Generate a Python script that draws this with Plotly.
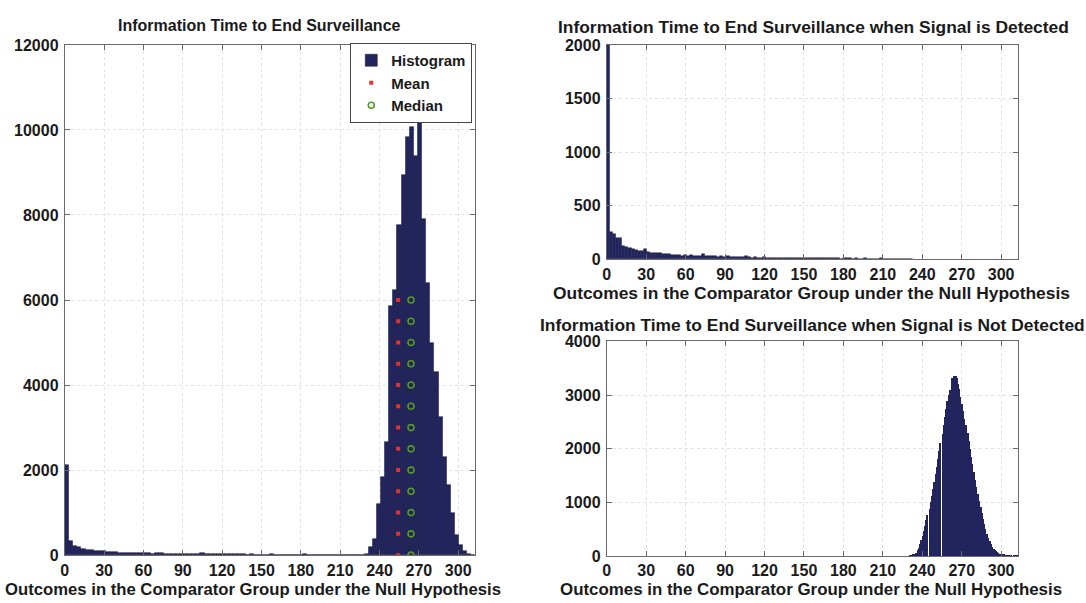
import numpy as np
import plotly.graph_objects as go

# ---------------- data ----------------
all_range = (0, 313)          # overall histogram, 100 bins
all_counts = [
    2130, 335, 225, 185, 135, 130, 115, 95, 100, 110,
    75, 70, 65, 60, 55, 58, 50, 48, 45, 50,
    42, 40, 45, 55, 38, 36, 38, 32, 30, 35,
    33, 28, 30, 45, 28, 24, 22, 20, 22, 20,
    18, 19, 17, 18, 15, 17, 14, 16, 14, 15,
    22, 14, 12, 13, 12, 11, 13, 11, 20, 10,
    11, 9, 10, 8, 9, 8, 14, 8, 7, 6,
    8, 6, 7, 20, 200, 380, 1210, 1830, 2660, 5860,
    6240, 7770, 8950, 9830, 10060, 9380, 11300, 7900, 6400, 5000,
    4300, 3250, 2300, 1650, 1000, 480, 230, 110, 40, 15,
]

det_range = (0, 233)          # signal detected, 100 bins
det_counts = [
    2000, 255, 240, 200, 200, 120, 115, 105, 95, 90,
    80, 75, 95, 65, 55, 55, 60, 55, 45, 50,
    45, 40, 42, 38, 35, 40, 32, 38, 35, 30,
    32, 50, 30, 28, 30, 35, 26, 28, 24, 30,
    26, 22, 25, 22, 20, 28, 18, 15, 17, 14,
    16, 18, 15, 14, 16, 13, 15, 12, 14, 11,
    13, 10, 12, 11, 13, 9, 11, 16, 12, 9,
    10, 8, 11, 9, 8, 10, 7, 9, 14, 8,
    7, 9, 6, 7, 8, 6, 5, 7, 5, 9,
    5, 4, 3, 5, 4, 3, 6, 4, 3, 5,
]

nd_range = (230, 313)         # signal not detected, 100 bins
nd_counts = [
    1, 3, 6, 15, 30, 0, 60, 100, 150, 220,
    290, 0, 370, 460, 560, 660, 760, 0, 880, 1000,
    1120, 1240, 1380, 0, 1520, 1650, 1800, 1950, 2100, 0,
    2260, 2430, 2580, 2740, 2880, 0, 3000, 3080, 3060, 3320,
    3350, 0, 3340, 3310, 3200, 3100, 2960, 0, 2830, 2700,
    2550, 2430, 0, 2280, 2130, 1990, 1840, 1700, 0, 1560,
    1420, 1280, 1150, 1020, 0, 900, 800, 690, 590, 500,
    0, 410, 330, 270, 215, 170, 0, 130, 100, 80,
    62, 48, 0, 38, 30, 24, 18, 14, 0, 11,
    9, 7, 5, 4, 0, 3, 2, 2, 1, 1,
]

mean_value = 254.2
median_value = 264.0
marker_levels = [0, 500, 1000, 1500, 2000, 2500, 3000, 3500, 4000, 4500, 5000, 5500, 6000]

x_ticks = [0, 30, 60, 90, 120, 150, 180, 210, 240, 270, 300]
x_max = 313

title_left = "Information Time to End Surveillance"
title_tr = "Information Time to End Surveillance when Signal is Detected"
title_br = "Information Time to End Surveillance when Signal is Not Detected"
x_title = "Outcomes in the Comparator Group under the Null Hypothesis"

# ---------------- styling ----------------
W, H = 1086, 603
FONT = "Liberation Sans"
BAR = "#22245e"
EDGE = "#15153d"
AXC = "#6a6a6a"


def centers(rng, n):
    lo, hi = rng
    w = (hi - lo) / n
    return lo + w * (np.arange(n) + 0.5), w


def px(xp):
    return xp / W


def py(yp):
    return 1 - yp / H


fig = go.Figure()

c, w = centers(all_range, len(all_counts))
fig.add_trace(go.Bar(x=c, y=all_counts, width=w, name="Histogram",
                     marker=dict(color=BAR, line=dict(color=EDGE, width=0.5)),
                     xaxis="x", yaxis="y"))
fig.add_trace(go.Scatter(x=[mean_value] * len(marker_levels), y=marker_levels, mode="markers",
                         name="Mean", marker=dict(symbol="square", size=4, color="#e8312a"),
                         xaxis="x", yaxis="y"))
fig.add_trace(go.Scatter(x=[median_value] * len(marker_levels), y=marker_levels, mode="markers",
                         name="Median",
                         marker=dict(symbol="circle-open", size=6, color="#519b22", line=dict(width=1.6)),
                         xaxis="x", yaxis="y"))

c, w = centers(det_range, len(det_counts))
fig.add_trace(go.Bar(x=c, y=det_counts, width=w, showlegend=False,
                     marker=dict(color=BAR, line=dict(color=EDGE, width=0.4)),
                     xaxis="x2", yaxis="y2"))

c, w = centers(nd_range, len(nd_counts))
fig.add_trace(go.Bar(x=c, y=nd_counts, width=w, showlegend=False,
                     marker=dict(color=BAR, line=dict(width=0)),
                     xaxis="x3", yaxis="y3"))

tickfont = dict(family=FONT, size=16, color="#1a1a1a", weight="bold")
common = dict(showline=True, linecolor=AXC, linewidth=1, mirror="ticks", ticks="inside",
              ticklen=5, tickcolor=AXC, showgrid=True, gridcolor="#e2e2e2", griddash="dot",
              gridwidth=1, zeroline=False, tickfont=tickfont)

xdom_l = [px(61), px(473)]
xdom_r = [px(605), px(1018)]

fig.update_layout(
    width=W, height=H,
    margin=dict(l=0, r=0, t=0, b=0),
    paper_bgcolor="white", plot_bgcolor="white",
    bargap=0, barmode="overlay",
    xaxis=dict(domain=xdom_l, range=[0, x_max], tickvals=x_ticks, anchor="y", ticklabelstandoff=1, **common),
    yaxis=dict(domain=[py(563), py(38)], range=[0, 12000], tickvals=[0, 2000, 4000, 6000, 8000, 10000, 12000],
               tickformat="d", anchor="x", ticklabelstandoff=2, **common),
    xaxis2=dict(domain=xdom_r, range=[0, x_max], tickvals=x_ticks, anchor="y2", ticklabelstandoff=1, **common),
    yaxis2=dict(domain=[py(258.5), py(38)], range=[0, 2000], tickvals=[0, 500, 1000, 1500, 2000],
                tickformat="d", anchor="x2", ticklabelstandoff=2, **common),
    xaxis3=dict(domain=xdom_r, range=[0, x_max], tickvals=x_ticks, anchor="y3", ticklabelstandoff=0, **common),
    yaxis3=dict(domain=[py(564), py(343)], range=[0, 4000], tickvals=[0, 1000, 2000, 3000, 4000],
                tickformat="d", anchor="x3", ticklabelstandoff=2, **common),
    legend=dict(x=px(470), y=py(36), xanchor="right", yanchor="top",
                bgcolor="white", bordercolor="#444444", borderwidth=1,
                font=dict(family=FONT, size=15, color="#1a1a1a", weight="bold"),
                tracegroupgap=0, itemwidth=30),
    showlegend=True,
)

ann = [
    (title_left, 256, 18, 16),
    (title_tr, 812, 20, 17.4),
    (title_br, 811, 326, 17.4),
    (x_title, 250, 598, 16.7),
    (x_title, 810, 293, 17.4),
    (x_title, 810, 598, 16.9),
]
for text, xp_, yp_, fs in ann:
    fig.add_annotation(text=text, x=px(xp_), y=py(yp_), xref="paper", yref="paper",
                       xanchor="center", yanchor="middle", showarrow=False, borderpad=0,
                       font=dict(family=FONT, size=fs, color="#1a1a1a", weight="bold"))

fig.write_html("out.html")
